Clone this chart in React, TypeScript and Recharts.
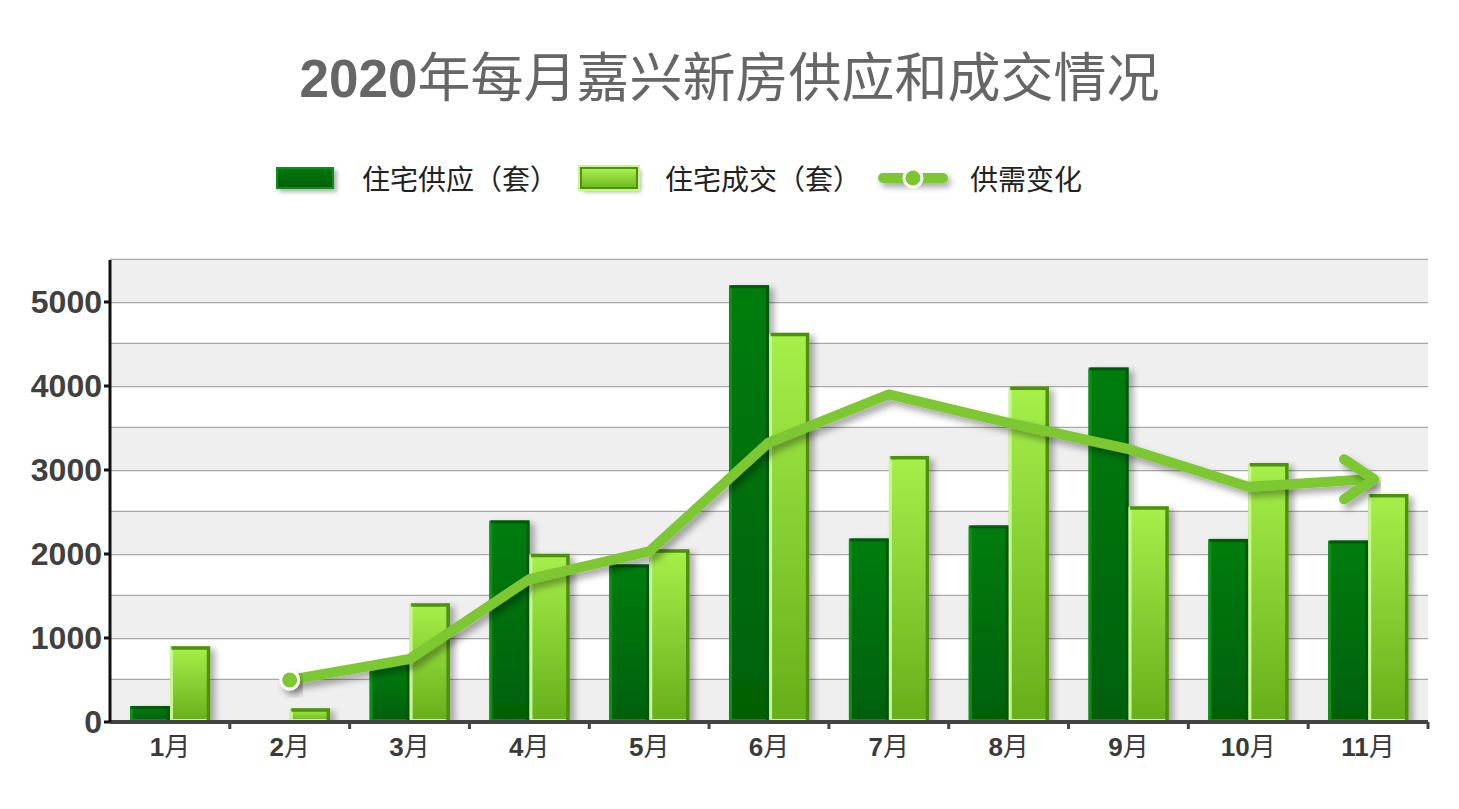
import React from 'react';
import { ComposedChart, Bar, Line, XAxis, YAxis, CartesianGrid, ReferenceArea } from 'recharts';

const months = ['1月', '2月', '3月', '4月', '5月', '6月', '7月', '8月', '9月', '10月', '11月'];
const supplyValues = [190, 0, 700, 2400, 1875, 5200, 2185, 2340, 4220, 2180, 2160];
const dealValues = [900, 160, 1410, 2000, 2055, 4630, 3165, 3990, 2565, 3080, 2710];
const changeValues: (number | null)[] = [null, 500, 750, 1700, 2030, 3330, 3900, 3560, 3250, 2800, 2890];
const yDomain = [0, 5500];
const yTicks = [0, 1000, 2000, 3000, 4000, 5000];
const gridValues = [0, 500, 1000, 1500, 2000, 2500, 3000, 3500, 4000, 4500, 5000, 5500];
const shadedBands = [
  [0, 500],
  [1000, 1500],
  [2000, 2500],
  [3000, 3500],
  [4000, 4500],
  [5000, 5500],
];
const legendLabels = ['住宅供应（套）', '住宅成交（套）', '供需变化'];

const data = months.map((m, i) => ({
  month: m,
  supply: supplyValues[i],
  deal: dealValues[i],
  change: changeValues[i],
}));

const LINE_COLOR = '#7cc730';
const DIGIT_FONT = '"Liberation Sans", Arial, sans-serif';
const CJK_FONT = '"Noto Sans CJK SC", sans-serif';

const SupplyShape = (props: any) => {
  const { x, y, width, height } = props;
  if (!height || height <= 0) return null;
  return (
    <g filter="url(#barShadow)">
      <rect x={x} y={y} width={width} height={height} fill="url(#gSupply)" />
      <path d={`M${x + 1.5},${y + height - 1.5} L${x + 1.5},${y + 1.5}`} stroke="#0a9018" strokeWidth={3} fill="none" />
      <path d={`M${x + 1.5},${y + height - 1.5} L${x + width - 1.5},${y + height - 1.5}`} stroke="#0a9018" strokeWidth={3} fill="none" />
      <path d={`M${x + 1.5},${y + 1.5} L${x + width - 1.5},${y + 1.5} L${x + width - 1.5},${y + height - 1.5}`} stroke="#005808" strokeWidth={3} fill="none" />
    </g>
  );
};

const DealShape = (props: any) => {
  const { x, y, width, height } = props;
  if (!height || height <= 0) return null;
  return (
    <g filter="url(#barShadow)">
      <rect x={x} y={y} width={width} height={height} fill="url(#gDeal)" />
      <path d={`M${x + 1.5},${y + 1.5} L${x + 1.5},${y + height - 1.5} L${x + width - 1.5},${y + height - 1.5}`} stroke="#c9f592" strokeWidth={3} fill="none" />
      <path d={`M${x + 1.5},${y + 1.5} L${x + width - 1.5},${y + 1.5} L${x + width - 1.5},${y + height - 1.5}`} stroke="#4f900e" strokeWidth={3.5} fill="none" />
    </g>
  );
};

const LineDot = (props: any) => {
  const { cx, cy, index } = props;
  if (cx == null || cy == null) return <g key={`d${index}`} />;
  const firstIdx = changeValues.findIndex((v) => v != null);
  if (index === firstIdx) {
    return (
      <circle key={`d${index}`} cx={cx} cy={cy} r={9} fill={LINE_COLOR} stroke="#ffffff" strokeWidth={3} filter="url(#lineShadow)" />
    );
  }
  if (index === changeValues.length - 1) {
    return (
      <path
        key={`d${index}`}
        d={`M${cx - 24},${cy - 20} L${cx + 6},${cy} L${cx - 24},${cy + 20}`}
        stroke={LINE_COLOR}
        strokeWidth={10}
        strokeLinecap="round"
        strokeLinejoin="round"
        fill="none"
        filter="url(#lineShadow)"
      />
    );
  }
  return <g key={`d${index}`} />;
};

const XTick = (props: any) => {
  const { x, y, payload, width, visibleTicksCount } = props;
  const band = width && visibleTicksCount ? width / visibleTicksCount : 0;
  const label: string = payload.value;
  const num = label.replace('月', '');
  return (
    <g>
      {band > 0 && (
        <line x1={x + band / 2} y1={y - 8} x2={x + band / 2} y2={y - 1} stroke="#444" strokeWidth={3} />
      )}
      <text x={x} y={y + 26} textAnchor="middle" fill="#3a3a3a" fontSize={26}>
        <tspan fontFamily={DIGIT_FONT} fontWeight="bold">{num}</tspan>
        <tspan fontFamily={CJK_FONT}>月</tspan>
      </text>
    </g>
  );
};

const YTick = (props: any) => {
  const { x, y, payload } = props;
  return (
    <text x={x} y={y + 11} textAnchor="end" fill="#404040" fontSize={32} fontFamily={DIGIT_FONT} fontWeight="bold">
      {payload.value}
    </text>
  );
};

const LegendBox = ({ kind }: { kind: 'supply' | 'deal' }) => (
  <div
    style={{
      width: 58,
      height: 22,
      boxSizing: 'border-box',
      background:
        kind === 'supply'
          ? 'linear-gradient(#00780e, #005f08)'
          : 'linear-gradient(#a9f04e, #6fba22)',
      border: kind === 'supply' ? '2px solid #0a8f18' : '2px solid #4f900e',
      boxShadow: kind === 'supply' ? '3px 3px 4px rgba(0,0,0,0.3)' : '0 0 0 2px #c9f592, 3px 3px 4px rgba(0,0,0,0.3)',
    }}
  />
);

const LegendLineIcon = () => (
  <svg width={72} height={26} style={{ overflow: 'visible' }}>
    <defs>
      <filter id="legendShadow" filterUnits="userSpaceOnUse" x={-10} y={-10} width={100} height={50}>
        <feDropShadow dx={3} dy={4} stdDeviation={3} floodColor="#000" floodOpacity={0.35} />
      </filter>
    </defs>
    <rect x={0} y={8} width={70} height={10} rx={5} fill={LINE_COLOR} filter="url(#legendShadow)" />
    <circle cx={35} cy={13} r={9} fill={LINE_COLOR} stroke="#fff" strokeWidth={3} />
  </svg>
);

export default function App() {
  return (
    <div style={{ position: 'absolute', left: 0, top: 0, width: 1459, height: 809, background: '#fff', overflow: 'hidden' }}>
      <div
        style={{
          position: 'absolute',
          left: 0,
          width: 1459,
          top: 42,
          textAlign: 'center',
          fontSize: 53,
          lineHeight: '64px',
          color: '#666',
          whiteSpace: 'nowrap',
        }}
      >
        <span style={{ fontFamily: DIGIT_FONT, fontWeight: 'bold' }}>2020</span>
        <span style={{ fontFamily: CJK_FONT, fontWeight: 400 }}>年每月嘉兴新房供应和成交情况</span>
      </div>

      <div
        style={{
          position: 'absolute',
          top: 160,
          left: 276,
          display: 'flex',
          alignItems: 'center',
          fontFamily: CJK_FONT,
          fontSize: 28,
          color: '#222',
          height: 36,
          whiteSpace: 'nowrap',
        }}
      >
        <LegendBox kind="supply" />
        <span style={{ marginLeft: 28, marginRight: 22 }}>{legendLabels[0]}</span>
        <LegendBox kind="deal" />
        <span style={{ marginLeft: 27, marginRight: 17 }}>{legendLabels[1]}</span>
        <LegendLineIcon />
        <span style={{ marginLeft: 20 }}>{legendLabels[2]}</span>
      </div>

      <div style={{ position: 'absolute', left: 0, top: 0 }}>
        <ComposedChart
          width={1459}
          height={809}
          data={data}
          margin={{ top: 260, right: 31, left: 10, bottom: 37 }}
          barCategoryGap="16.7%"
          barGap={0}
        >
          <defs>
            <linearGradient id="gSupply" x1="0" y1="0" x2="0" y2="1">
              <stop offset="0%" stopColor="#007d10" />
              <stop offset="100%" stopColor="#005f06" />
            </linearGradient>
            <linearGradient id="gDeal" x1="0" y1="0" x2="0" y2="1">
              <stop offset="0%" stopColor="#a6f04a" />
              <stop offset="100%" stopColor="#66ae1a" />
            </linearGradient>
            <filter id="barShadow" x="-20%" y="-10%" width="150%" height="130%">
              <feDropShadow dx={5} dy={3} stdDeviation={3} floodColor="#000" floodOpacity={0.3} />
            </filter>
            <filter id="lineShadow" x="-20%" y="-50%" width="140%" height="200%">
              <feDropShadow dx={4} dy={5} stdDeviation={3.5} floodColor="#000" floodOpacity={0.35} />
            </filter>
          </defs>
          {shadedBands.map(([lo, hi]) => (
            <ReferenceArea key={`band${lo}`} y1={lo} y2={hi} fill="#efefef" fillOpacity={1} stroke="none" ifOverflow="hidden" />
          ))}
          <CartesianGrid
            vertical={false}
            stroke="#a9a9a9"
            strokeWidth={2.5}
            horizontalValues={gridValues}
          />
          <XAxis
            dataKey="month"
            interval={0}
            height={50}
            tickLine={false}
            axisLine={{ stroke: '#444', strokeWidth: 4 }}
            tick={<XTick />}
          />
          <YAxis
            domain={yDomain}
            ticks={yTicks}
            width={100}
            interval={0}
            allowDataOverflow
            axisLine={{ stroke: '#111', strokeWidth: 3 }}
            tickLine={{ stroke: '#111', strokeWidth: 3 }}
            tickSize={6}
            tick={<YTick />}
          />
          <Bar dataKey="supply" name={legendLabels[0]} shape={<SupplyShape />} isAnimationActive={false} />
          <Bar dataKey="deal" name={legendLabels[1]} shape={<DealShape />} isAnimationActive={false} />
          <Line
            dataKey="change"
            name={legendLabels[2]}
            type="linear"
            stroke={LINE_COLOR}
            strokeWidth={10}
            strokeLinejoin="round"
            strokeLinecap="round"
            dot={<LineDot />}
            activeDot={false}
            connectNulls={false}
            isAnimationActive={false}
            style={{ filter: 'url(#lineShadow)' }}
          />
        </ComposedChart>
      </div>
    </div>
  );
}
